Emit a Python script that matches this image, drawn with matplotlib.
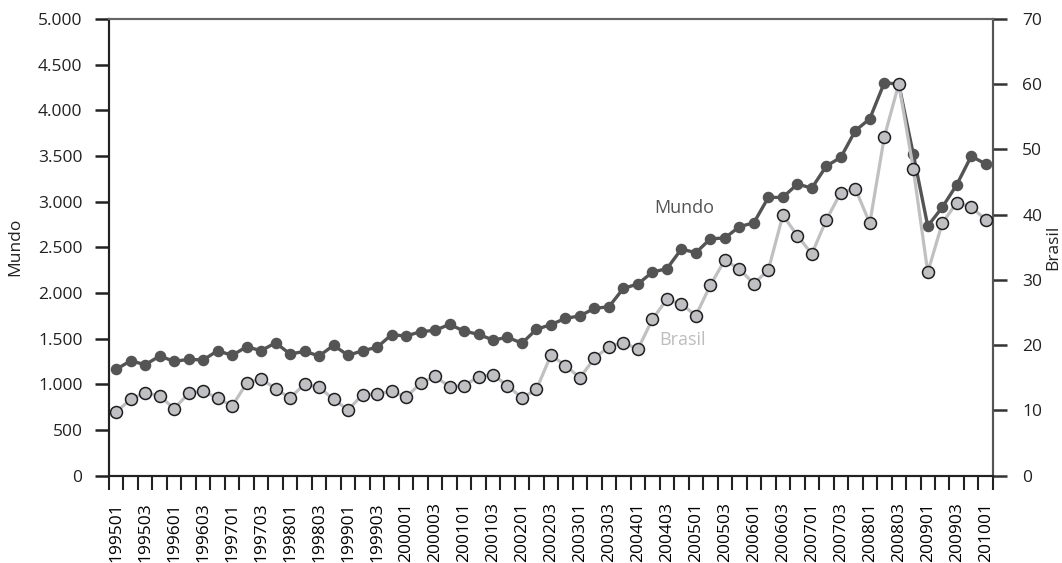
import matplotlib
matplotlib.use("Agg")
import matplotlib.pyplot as plt
from matplotlib.ticker import FixedLocator, FuncFormatter

plt.rcParams['font.family'] = ['Open Sans', 'DejaVu Sans']

# quarters 1995Q1 .. 2010Q1
quarters = [f"{y}0{q}" for y in range(1995, 2011) for q in range(1, 5)][:61]

mundo = [1163, 1257, 1213, 1309, 1250, 1272, 1265, 1367, 1316, 1410,
         1367, 1454, 1330, 1360, 1309, 1426, 1316, 1367, 1404, 1542,
         1528, 1575, 1590, 1655, 1582, 1546, 1484, 1513, 1450, 1601,
         1653, 1721, 1748, 1831, 1848, 2050, 2097, 2228, 2265, 2480,
         2440, 2593, 2601, 2725, 2768, 3046, 3046, 3192, 3148, 3389,
         3484, 3776, 3907, 4301, 4287, 3520, 2732, 2937, 3184, 3498,
         3411]

brasil = [9.74, 11.69, 12.70, 12.20, 10.25, 12.61, 12.96, 11.84, 10.66, 14.14,
          14.85, 13.27, 11.89, 14.04, 13.53, 11.69, 10.05, 12.40, 12.50, 12.92,
          12.00, 14.14, 15.20, 13.62, 13.78, 15.16, 15.46, 13.78, 11.89, 13.22,
          18.48, 16.84, 15.00, 17.98, 19.76, 20.37, 19.36, 23.96, 27.00, 26.28,
          24.52, 29.18, 33.06, 31.63, 29.42, 31.52, 39.91, 36.79, 33.98, 39.19,
          43.38, 44.00, 38.69, 51.88, 60.06, 47.06, 31.17, 38.69, 41.85, 41.19,
          39.19]

dark = '#545454'
light = '#c0c0c0'
fs = 12.5

fig = plt.figure(figsize=(10.62, 5.63), dpi=100)
ax = fig.add_axes([0.1026, 0.1554, 0.8324, 0.8109])
ax2 = ax.twinx()

x = list(range(len(quarters)))
ax.plot(x, mundo, color=dark, lw=2.4, marker='o', ms=7.3, mfc=dark, mec=dark,
        solid_joinstyle='round', zorder=3)
ax2.plot(x, brasil, color=light, lw=2.3, marker='o', ms=8.6, mfc='#bfc0c3',
         mec='#1e1e1e', mew=1.1, zorder=3)

ax.set_xlim(-0.5, len(quarters) - 0.5)
ax.set_ylim(0, 5000)
ax2.set_ylim(0, 70)

ax.set_yticks(range(0, 5001, 500))
ax.yaxis.set_major_formatter(FuncFormatter(lambda v, p: f"{v:,.0f}".replace(',', '.')))
ax2.set_yticks(range(0, 71, 10))

# labels on every other quarter, tick marks on category boundaries
ax.xaxis.set_major_locator(FixedLocator(x[::2]))
ax.set_xticklabels(quarters[::2], rotation=90, fontsize=fs)
ax.xaxis.set_minor_locator(FixedLocator([i - 0.5 for i in range(len(quarters) + 1)]))
ax.tick_params(axis='x', which='major', length=0, pad=19)
ax.tick_params(axis='x', which='minor', length=10, width=1.5, color='#222')

ax.tick_params(axis='y', length=10, width=1.8, color='#222', pad=9, labelsize=fs,
               labelcolor='#222')
ax2.tick_params(axis='y', length=10, width=1.8, color='#333', pad=11, labelsize=fs,
                labelcolor='#222')

for a in (ax, ax2):
    a.spines['left'].set_color('#222')
    a.spines['left'].set_linewidth(1.5)
    a.spines['bottom'].set_color('#222')
    a.spines['bottom'].set_linewidth(1.5)
    a.spines['right'].set_color('#555')
    a.spines['right'].set_linewidth(1.5)
    a.spines['top'].set_color('#666')
    a.spines['top'].set_linewidth(1.5)

ax.set_ylabel('Mundo', fontsize=fs, color='#222', labelpad=11)
ax2.set_ylabel('Brasil', fontsize=fs, color='#222', labelpad=2)

ax.text(37.1, 2929, 'Mundo', fontsize=13, color=dark, ha='left', va='center')
ax2.text(37.5, 20.8, 'Brasil', fontsize=13, color='#bdbdbd', ha='left', va='center')

fig.savefig('out.png', dpi=100)
